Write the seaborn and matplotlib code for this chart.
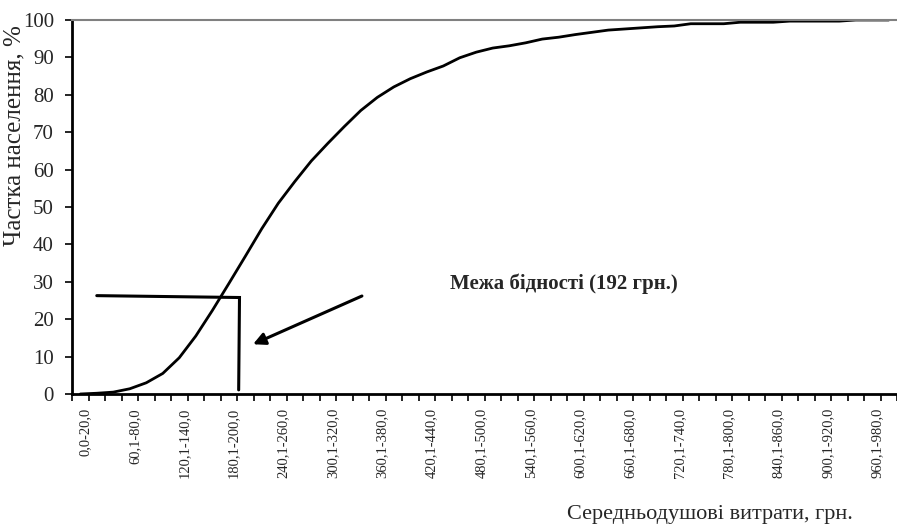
"""Cumulative share of population by per-capita expenditure, with the poverty line"""

import matplotlib
matplotlib.use("Agg")
import matplotlib.pyplot as plt
import matplotlib.transforms as mtransforms
import pandas as pd
import seaborn as sns

# Expenditure brackets (грн.), 20-grn steps up to 1000
lower = list(range(0, 1000, 20))
categories = ["0,0-20,0"] + [f"{lo},1-{lo + 20},0" for lo in lower[1:]]

# Cumulative share of population, %
share = [0.0, 0.2, 0.5, 1.4, 3.0, 5.5, 9.7, 15.5, 22.3, 29.5,
         36.8, 44.2, 51.0, 56.8, 62.3, 67.0, 71.5, 75.8, 79.3, 82.1,
         84.3, 86.1, 87.7, 89.9, 91.4, 92.5, 93.1, 93.9, 94.9, 95.4,
         96.1, 96.7, 97.3, 97.6, 97.9, 98.2, 98.4, 99.0, 99.0, 99.0,
         99.4, 99.4, 99.4, 99.7, 99.7, 99.7, 99.7, 100.0, 100.0, 100.0]

# Hand-drawn poverty line marker (category position, %)
pov_x = [1.0, 9.65, 9.6]
pov_y = [26.3, 25.8, 1.1]
arrow_tail = (17.07, 26.2)
arrow_head = (10.47, 13.3)
note = "Межа бідності (192 грн.)"
note_pos = (22.4, 29.6)

df = pd.DataFrame({"pos": range(len(categories)), "share": share})

sns.set_style("ticks")
plt.rcParams["font.family"] = ["Liberation Serif", "DejaVu Serif"]

fig = plt.figure(figsize=(8.97, 5.29), dpi=100)
ax = fig.add_axes([0.0803, 0.2552, 0.9197, 0.707])

sns.lineplot(data=df, x="pos", y="share", color="black", linewidth=2.0, ax=ax)

ax.plot(pov_x, pov_y, color="black", linewidth=2.2, solid_joinstyle="miter")
ax.annotate("", xy=arrow_head, xytext=arrow_tail,
            arrowprops=dict(arrowstyle="-|>", color="black", lw=2.2,
                            mutation_scale=18, shrinkA=0, shrinkB=0))
ax.text(note_pos[0], note_pos[1], note, ha="left", va="center",
        fontsize=15, fontweight="bold")

ax.set_xlim(-0.5, len(categories) - 0.5)
ax.set_ylim(0, 100)
ax.set_yticks(range(0, 101, 10))
ax.tick_params(axis="y", labelsize=15, length=5, width=1.2, color="black", pad=8)

major = list(range(0, len(categories), 3))
ax.set_xticks(major)
ax.set_xticklabels([categories[i] for i in major], rotation=90, fontsize=10.5)
ax.set_xticks([i - 0.5 for i in range(len(categories) + 1)], minor=True)
ax.tick_params(axis="x", which="major", length=0, pad=10)
ax.tick_params(axis="x", which="minor", length=5, width=1.2, color="black")
shift = mtransforms.ScaledTranslation(5 / 100, 0, fig.dpi_scale_trans)
for lab in ax.get_xticklabels():
    lab.set_transform(lab.get_transform() + shift)

ax.set_xlabel("Середньодушові витрати, грн.", fontsize=16)
ax.set_ylabel("Частка населення, %", fontsize=18)
ax.xaxis.set_label_coords(0.773, -0.298)
ax.yaxis.set_label_coords(-0.056, 0.69)

for side in ["left", "bottom"]:
    ax.spines[side].set_linewidth(2.0)
    ax.spines[side].set_color("black")
ax.spines["top"].set_color("#808080")
ax.spines["top"].set_linewidth(1.5)
ax.spines["right"].set_visible(False)

fig.savefig("out.png", dpi=100)
